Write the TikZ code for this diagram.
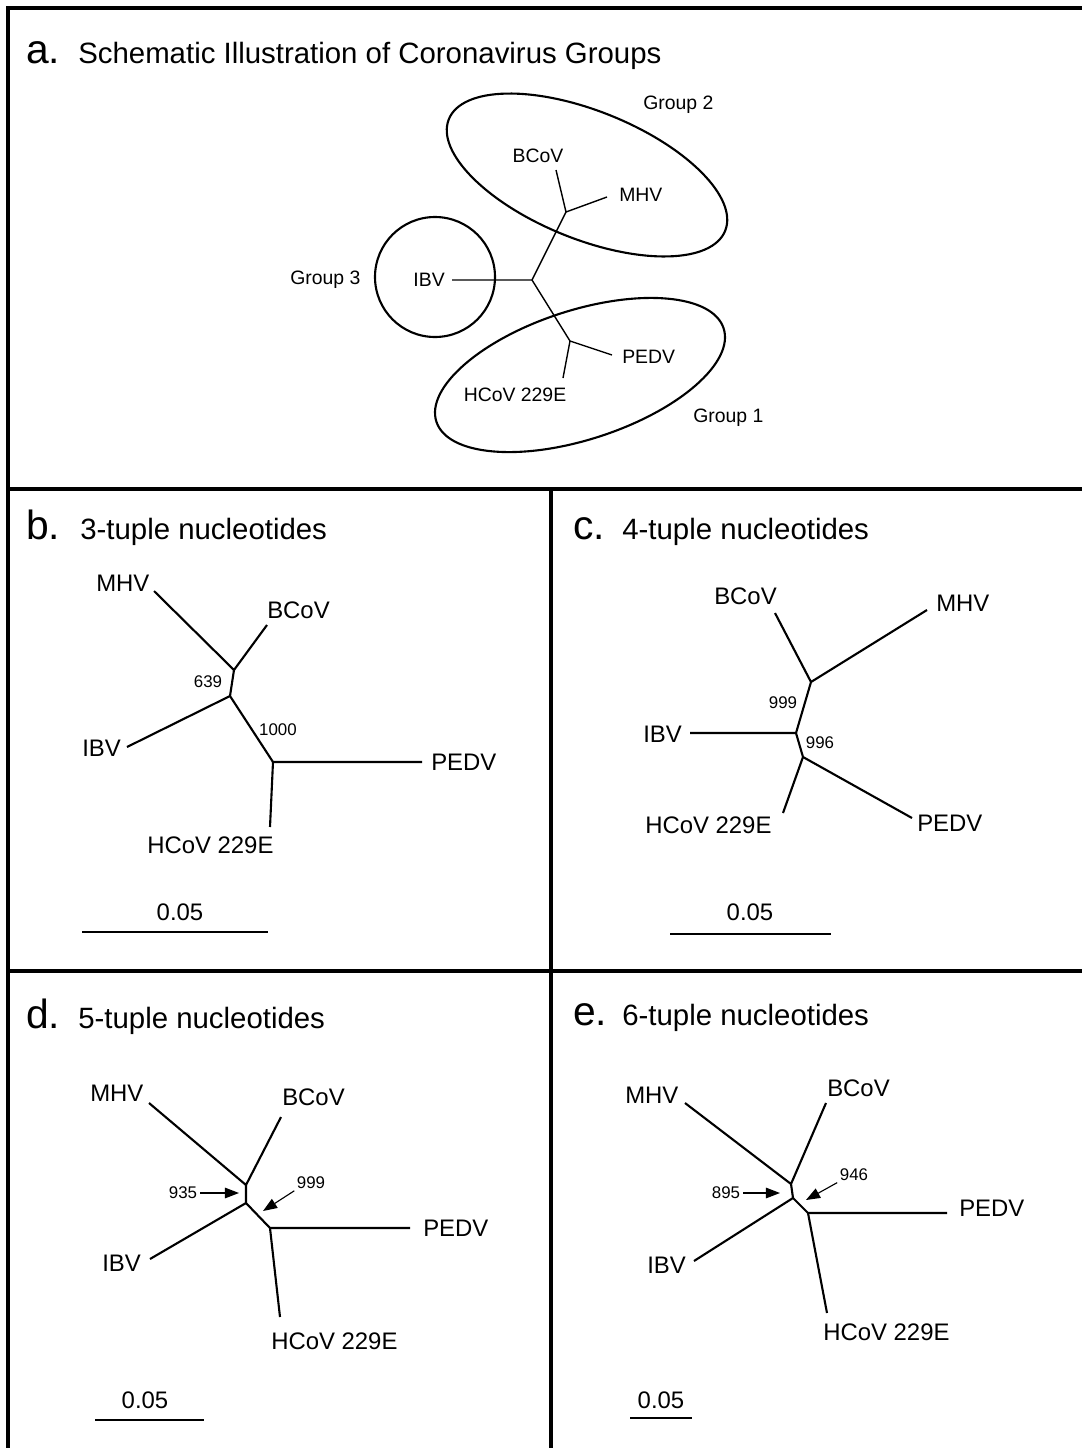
\documentclass[tikz,border=0pt]{standalone}
\usepackage{fontspec}
\setmainfont{Liberation Sans}
\usetikzlibrary{arrows.meta}

\begin{document}
\begin{tikzpicture}[
  x=0.025cm, y=-0.025cm,
  pnl/.style={font=\fontsize{29}{32}\selectfont, inner sep=0pt, anchor=base west},
  ttl/.style={font=\fontsize{20.9}{24}\selectfont, inner sep=0pt, anchor=base west},
  lbl/.style={font=\fontsize{17}{20}\selectfont, inner sep=0pt, anchor=west},
  albl/.style={font=\fontsize{13.8}{16}\selectfont, inner sep=0pt},
  boot/.style={font=\fontsize{12}{14}\selectfont, inner sep=0pt},
  frame/.style={line width=2.2pt},
  branch/.style={line width=1.5pt, line join=round},
  thinbranch/.style={line width=1pt},
  ell/.style={line width=1.5pt},
  arr/.style={-{Triangle[length=10pt,width=7.5pt]}, line width=0.8pt, shorten <=2pt}
]
  \useasboundingbox (0,0) rectangle (1082,1448);

  % panel frames
  \coordinate (tl) at (8,8);
  \coordinate (tr) at (1082,8);
  \coordinate (bl) at (8,1448);
  \coordinate (m1l) at (8,489);
  \coordinate (m1r) at (1082,489);
  \coordinate (m2l) at (8,971);
  \coordinate (m2r) at (1082,971);
  \coordinate (vt) at (551,489);
  \coordinate (vb) at (551,1448);
  \draw[frame] (bl) -- (tl) -- (tr);
  \draw[frame] (m1l) -- (m1r);
  \draw[frame] (m2l) -- (m2r);
  \draw[frame] (vt) -- (vb);

  % a. groups
  \node[pnl] (aL) at (26,63) {a.};
  \node[ttl] (aT) at (78,63) {Schematic Illustration of Coronavirus Groups};
  \coordinate (a1) at (566,212);
  \coordinate (a2) at (532,280);
  \coordinate (a3) at (570,341);
  \coordinate (aMHVt) at (607,197);
  \coordinate (aBCoVt) at (556,170);
  \coordinate (aIBVt) at (452,280);
  \coordinate (aPEDVt) at (612,355);
  \coordinate (aHCoVt) at (563,378);
  \node[albl] (aBCoV) at (538,156) {BCoV};
  \node[albl, anchor=west] (aMHV) at (619,195) {MHV};
  \node[albl, anchor=east] (aIBV) at (445,280) {IBV};
  \node[albl, anchor=west] (aPEDV) at (622,357) {PEDV};
  \node[albl] (aHCoV) at (515,395) {HCoV 229E};
  \draw[thinbranch] (aMHVt) -- (a1) -- (aBCoVt);
  \draw[thinbranch] (a1) -- (a2) -- (aIBVt);
  \draw[thinbranch] (a2) -- (a3) -- (aPEDVt);
  \draw[thinbranch] (a3) -- (aHCoVt);
  \draw[ell, rotate around={-22:(587,175)}] (587,175) ellipse [x radius=149, y radius=64];
  \draw[ell, rotate around={18:(580,375)}] (580,375) ellipse [x radius=151, y radius=64.5];
  \draw[ell] (435,277) circle [radius=60];
  \node[albl, anchor=base west] (g2) at (643,109) {Group 2};
  \node[albl, anchor=base west] (g3) at (290,284) {Group 3};
  \node[albl, anchor=base west] (g1) at (693,422) {Group 1};

  % b. 3-tuple
  \node[pnl] (bL) at (26,539) {b.};
  \node[ttl] (bT) at (80,539) {3-tuple nucleotides};
  \coordinate (b1) at (234,670);
  \coordinate (b2) at (230,696);
  \coordinate (b3) at (273,762);
  \coordinate (bMHVt) at (154,591);
  \coordinate (bBCoVt) at (267,625);
  \coordinate (bIBVt) at (127,747);
  \coordinate (bPEDVt) at (422,762);
  \coordinate (bHCoVt) at (270,827);
  \node[lbl] (bMHV) at (96,583) {MHV};
  \node[lbl] (bBCoV) at (267,610) {BCoV};
  \node[lbl] (bIBV) at (82,748) {IBV};
  \node[lbl] (bPEDV) at (431,762) {PEDV};
  \node[lbl] (bHCoV) at (147,845) {HCoV 229E};
  \node[boot] (b639) at (208,682) {639};
  \node[boot] (b1000) at (278,730) {1000};
  \coordinate (bs1) at (82,932);
  \coordinate (bs2) at (268,932);
  \node[lbl, anchor=center] (bsc) at (180,912) {0.05};

  % c. 4-tuple
  \node[pnl] (cL) at (573,539) {c.};
  \node[ttl] (cT) at (622,539) {4-tuple nucleotides};
  \coordinate (c1) at (811,682);
  \coordinate (c2) at (796,733);
  \coordinate (c3) at (803,757);
  \coordinate (cMHVt) at (927,610);
  \coordinate (cBCoVt) at (775,613);
  \coordinate (cIBVt) at (690,733);
  \coordinate (cPEDVt) at (912,818);
  \coordinate (cHCoVt) at (783,813);
  \node[lbl] (cBCoV) at (714,596) {BCoV};
  \node[lbl] (cMHV) at (936,603) {MHV};
  \node[lbl] (cIBV) at (643,734) {IBV};
  \node[lbl] (cHCoV) at (645,825) {HCoV 229E};
  \node[lbl] (cPEDV) at (917,823) {PEDV};
  \node[boot] (c999) at (783,703) {999};
  \node[boot] (c996) at (820,743) {996};
  \coordinate (cs1) at (670,934);
  \coordinate (cs2) at (831,934);
  \node[lbl, anchor=center] (csc) at (750,912) {0.05};

  % d. 5-tuple
  \node[pnl] (dL) at (26,1028) {d.};
  \node[ttl] (dT) at (78,1028) {5-tuple nucleotides};
  \coordinate (d1) at (246,1185);
  \coordinate (d2) at (246,1203);
  \coordinate (d3) at (270,1228);
  \coordinate (dMHVt) at (149,1103);
  \coordinate (dBCoVt) at (281,1117);
  \coordinate (dIBVt) at (150,1259);
  \coordinate (dPEDVt) at (410,1228);
  \coordinate (dHCoVt) at (280,1317);
  \node[lbl] (dMHV) at (90,1093) {MHV};
  \node[lbl] (dBCoV) at (282,1097) {BCoV};
  \node[lbl] (dIBV) at (102,1263) {IBV};
  \node[lbl] (dPEDV) at (423,1228) {PEDV};
  \node[lbl] (dHCoV) at (271,1341) {HCoV 229E};
  \node[boot] (d935) at (183,1193) {935};
  \node[boot] (d999) at (311,1183) {999};
  \coordinate (d935a) at (239,1193);
  \coordinate (d999a) at (263,1211);
  \draw[arr] (d935) -- (d935a);
  \draw[arr] (d999.south west) -- (d999a);
  \coordinate (ds1) at (95,1420);
  \coordinate (ds2) at (204,1420);
  \node[lbl, anchor=center] (dsc) at (145,1400) {0.05};

  % e. 6-tuple
  \node[pnl] (eL) at (573,1025) {e.};
  \node[ttl] (eT) at (622,1025) {6-tuple nucleotides};
  \coordinate (e1) at (791,1184);
  \coordinate (e2) at (793,1198);
  \coordinate (e3) at (808,1213);
  \coordinate (eMHVt) at (685,1103);
  \coordinate (eBCoVt) at (826,1103);
  \coordinate (eIBVt) at (694,1261);
  \coordinate (ePEDVt) at (947,1213);
  \coordinate (eHCoVt) at (827,1313);
  \node[lbl] (eMHV) at (625,1095) {MHV};
  \node[lbl] (eBCoV) at (827,1088) {BCoV};
  \node[lbl] (eIBV) at (647,1265) {IBV};
  \node[lbl] (ePEDV) at (959,1208) {PEDV};
  \node[lbl] (eHCoV) at (823,1332) {HCoV 229E};
  \node[boot] (e895) at (726,1193) {895};
  \node[boot] (e946) at (854,1175) {946};
  \coordinate (e895a) at (780,1193);
  \coordinate (e946a) at (806,1200);
  \draw[arr] (e895) -- (e895a);
  \draw[arr] (e946.south west) -- (e946a);
  \coordinate (es1) at (630,1418);
  \coordinate (es2) at (692,1418);
  \node[lbl, anchor=center] (esc) at (661,1400) {0.05};

  % trees and scale bars b--e
  \foreach \p in {b,c,d,e} {
    \draw[branch] (\p MHVt) -- (\p1) -- (\p BCoVt);
    \draw[branch] (\p1) -- (\p2) -- (\p IBVt);
    \draw[branch] (\p2) -- (\p3) -- (\p PEDVt);
    \draw[branch] (\p3) -- (\p HCoVt);
    \draw[branch] (\p s1) -- (\p s2);
  }
\end{tikzpicture}
\end{document}
